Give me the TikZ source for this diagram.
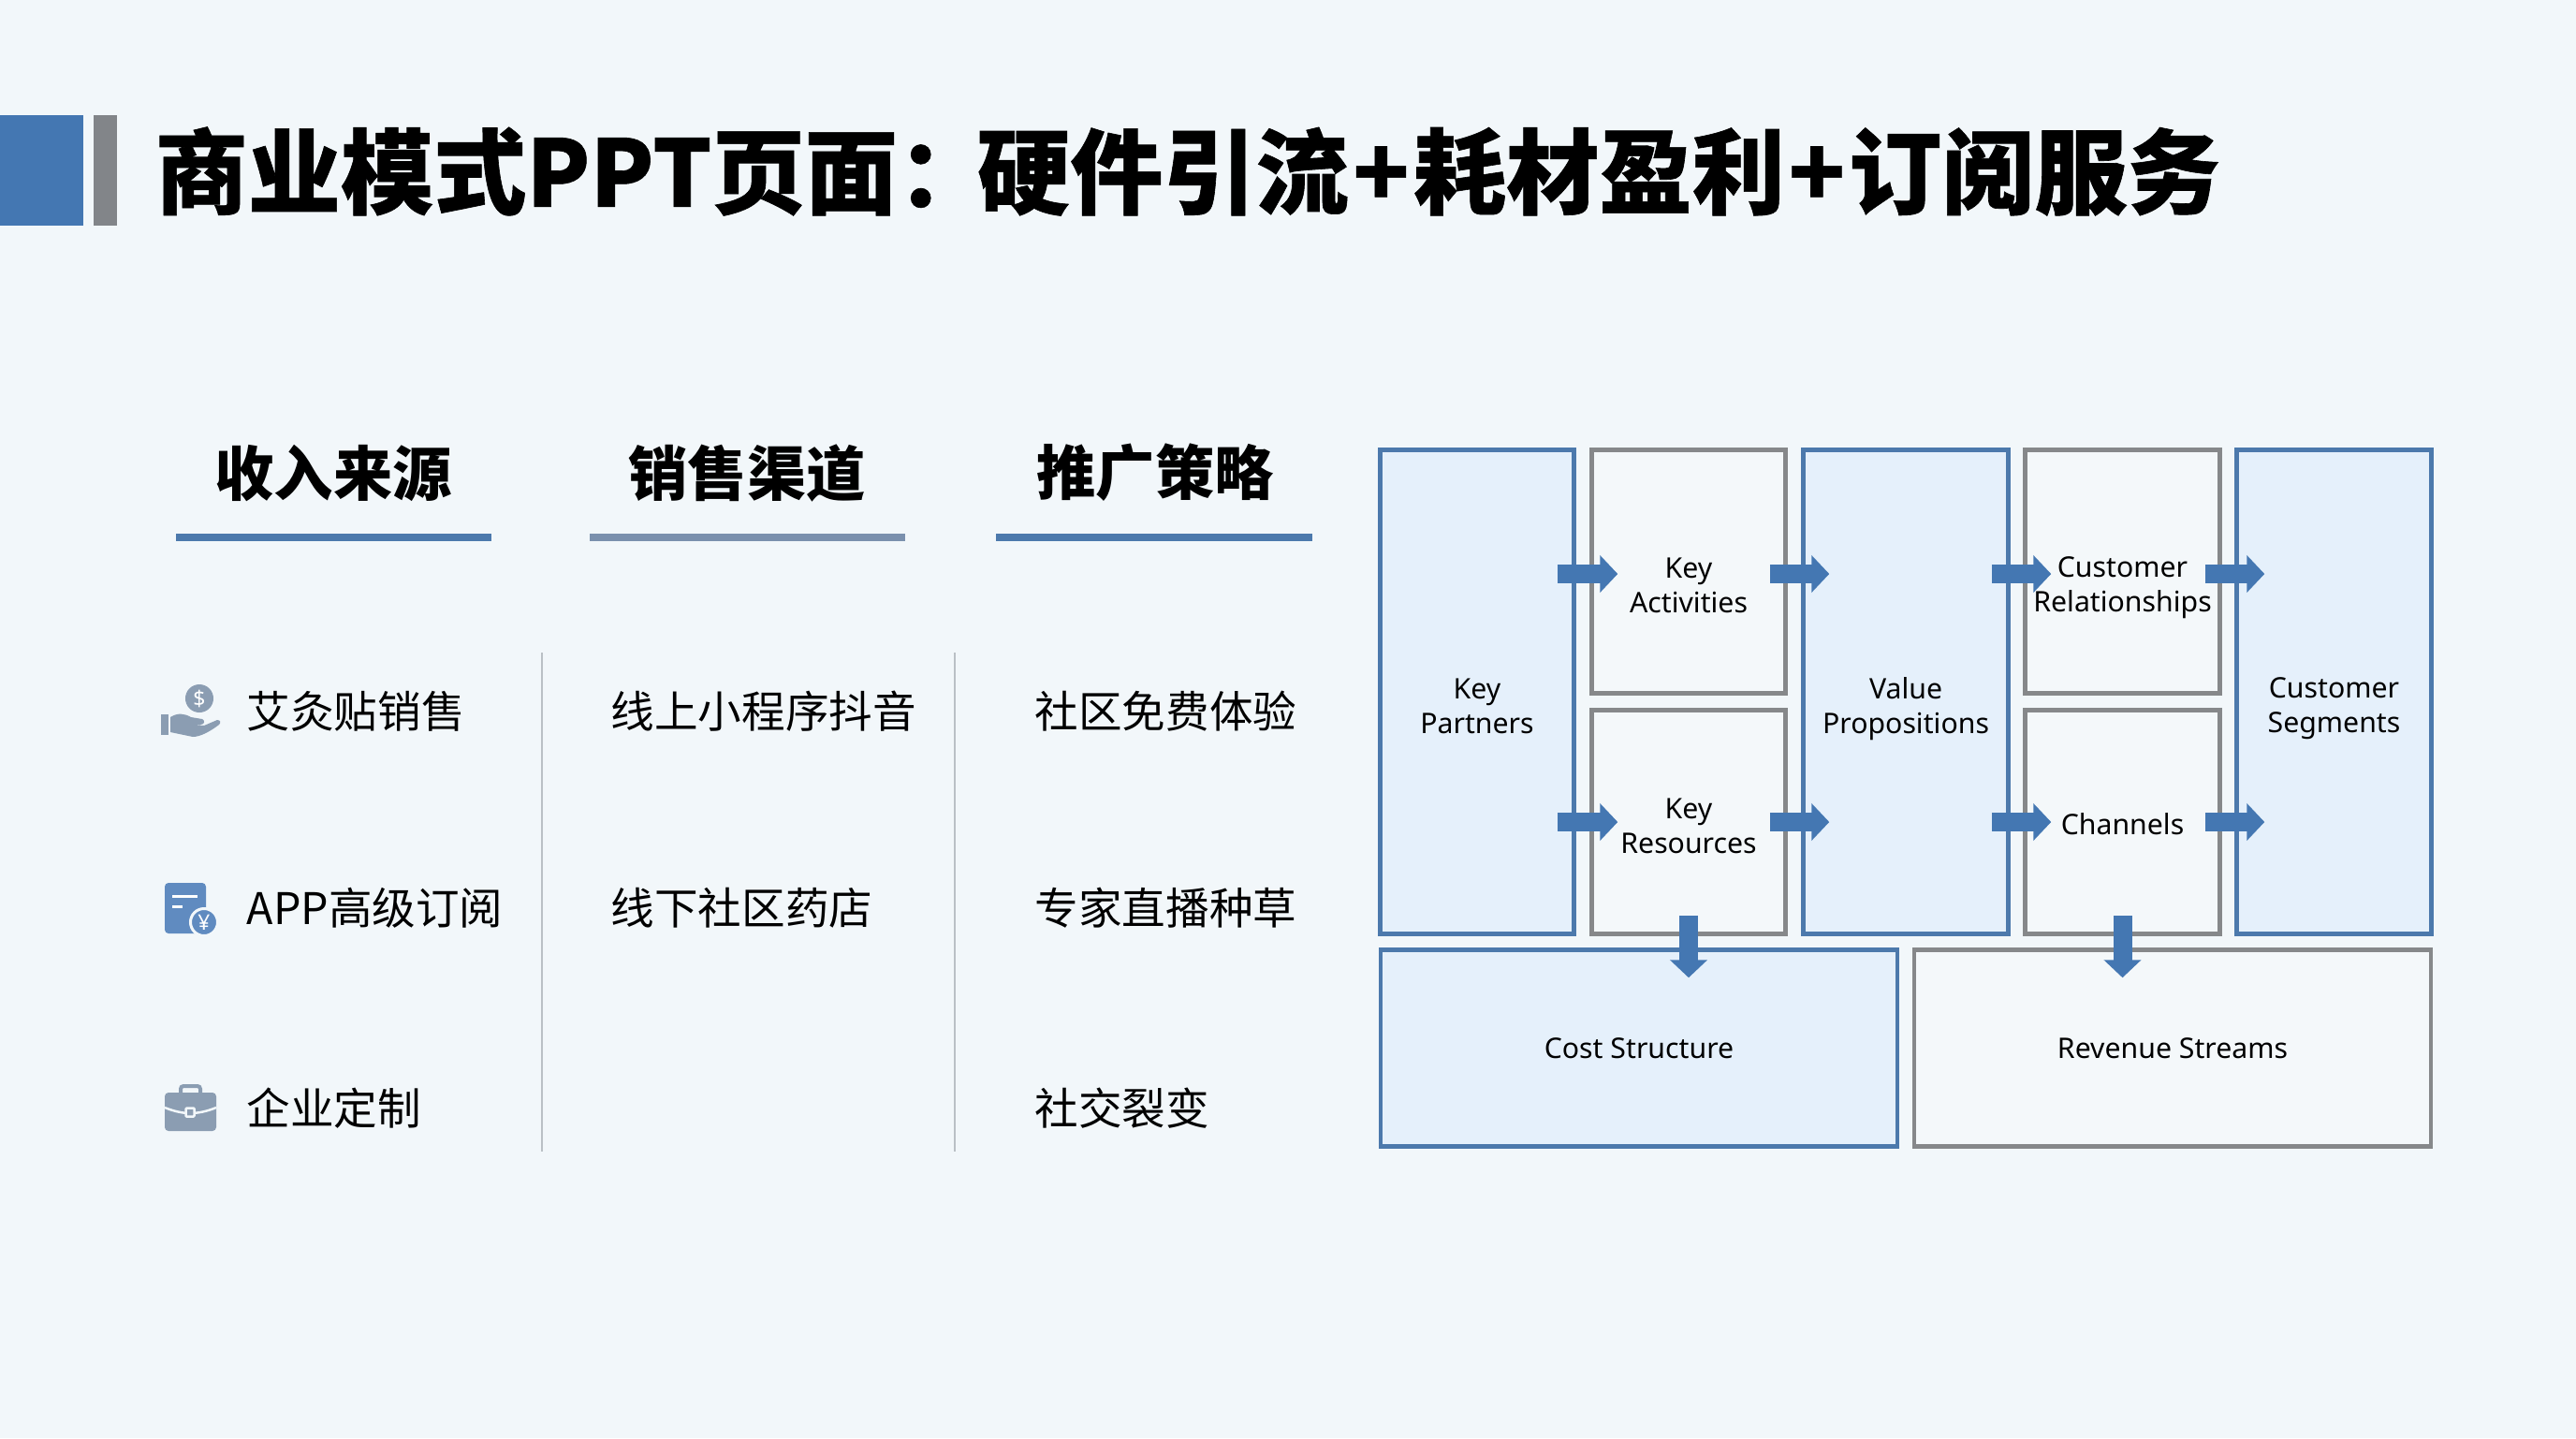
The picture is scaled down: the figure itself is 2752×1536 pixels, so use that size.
\documentclass[tikz,border=0pt]{standalone}
\usepackage{fontspec}
\setmainfont{Noto Sans}
\newfontfamily\cjkfont{Noto Sans CJK SC}
\newfontfamily\cjkheavy[BoldFeatures={FakeBold=0.6}]{Noto Sans CJK SC}
\usepackage{xcolor}
\usetikzlibrary{arrows.meta,positioning,calc}
\definecolor{pagebg}{RGB}{242, 247, 250}
\definecolor{primaryblue}{RGB}{68, 119, 178}
\definecolor{borderblue}{RGB}{76, 121, 172}
\definecolor{softblue}{RGB}{229, 240, 251}
\definecolor{bordergray}{RGB}{134, 136, 138}
\definecolor{softgray}{RGB}{244, 248, 250}
\definecolor{bargray}{RGB}{130, 133, 137}
\definecolor{mutedblue}{RGB}{122, 144, 173}
\definecolor{iconslate}{RGB}{139, 157, 178}
\definecolor{iconblue}{RGB}{96, 139, 192}
\definecolor{rulegray}{RGB}{186, 192, 197}

\begin{document}
\begin{tikzpicture}[
  x=0.01cm, y=-0.01cm,
  titletext/.style={anchor=west, inner sep=0pt, font=\cjkheavy\bfseries\fontsize{28.2}{30}\selectfont},
  headtext/.style={inner sep=0pt, font=\cjkfont\bfseries\fontsize{18}{20}\selectfont},
  itemtext/.style={anchor=west, inner sep=0pt, font=\cjkfont\fontsize{13.25}{15}\selectfont},
  bluebox/.style={rectangle, draw=borderblue, fill=softblue, line width=1.25pt},
  graybox/.style={rectangle, draw=bordergray, fill=softgray, line width=1.25pt},
  boxtext/.style={inner sep=0pt, align=center, font=\fontsize{8.6}{10.6}\selectfont},
  headrule/.style={line width=0.08cm},
  colrule/.style={draw=rulegray, line width=0.5pt},
  blockarrow/.style={-{Triangle[length=0.19cm,width=0.39cm]}, line width=0.2cm, color=primaryblue},
  icontext/.style={inner sep=0pt, text=white, font=\bfseries\fontsize{6.5}{7}\selectfont}
]

% Page background
\fill[pagebg] (0,0) rectangle (2752,1536);
\useasboundingbox (0,0) rectangle (2752,1536);

% Top: title banner
\fill[primaryblue] (0,123) rectangle (89,241);
\fill[bargray] (100,123) rectangle (124.5,241);
\node[titletext] (title) at (165,183) {商业模式PPT页面：\kern-0.14cm 硬件引流\kern0.045cm+\kern0.045cm 耗材盈利\kern0.04cm+\kern0.04cm 订阅服务};

% Left: column headers
\node[headtext] (income) at (356,505) {收入来源};
\node[headtext] (sales) at (798,505) {销售渠道};
\node[headtext] (promo) at (1234,505) {推广策略};
\draw[headrule, borderblue] (188,574) -- (525,574);
\draw[headrule, mutedblue] (630,574) -- (967,574);
\draw[headrule, borderblue] (1064,574) -- (1402,574);

% Left: column separators
\draw[colrule] (579,697) -- (579,1230);
\draw[colrule] (1020,697) -- (1020,1230);

% Left: list items
\node[itemtext] (moxa) at (263,760) {艾灸贴销售};
\node[itemtext] (app) at (263,970) {APP高级订阅};
\node[itemtext] (custom) at (263,1184) {企业定制};
\node[itemtext] (online) at (652,760) {线上小程序抖音};
\node[itemtext] (offline) at (652,970) {线下社区药店};
\node[itemtext] (trial) at (1105,760) {社区免费体验};
\node[itemtext] (expert) at (1105,970) {专家直播种草};
\node[itemtext] (social) at (1105,1184) {社交裂变};

% Left: icons
\node[circle, fill=iconslate, minimum size=0.3cm, icontext] (coin) at (213,746) {\$};
\fill[iconslate] (172,763) rectangle (180,785);
\fill[iconslate] (182,766) .. controls (190,761) and (197,762) .. (204,766) -- (216,768)
  .. controls (220,770) and (218,774) .. (214,774) -- (204,774) -- (218,775) -- (232,769)
  .. controls (236,769) and (236,772) .. (234,774) .. controls (225,781) and (214,787) .. (206,787)
  -- (182,782) -- cycle;
\fill[iconblue, rounded corners=0.04cm] (176,943) rectangle (220,997);
\draw[white, line width=0.03cm] (184,957) -- (211,957);
\draw[white, line width=0.03cm] (184,968) -- (195,968);
\node[circle, fill=iconblue, draw=pagebg, line width=0.03cm, minimum size=0.29cm, icontext] (yuan) at (218,985) {¥};
\fill[iconslate, rounded corners=0.04cm] (176,1167) rectangle (231,1208);
\draw[iconslate, line width=0.04cm, rounded corners=0.03cm] (193,1167) -- (193,1160) -- (214,1160) -- (214,1167);
\draw[pagebg, line width=0.025cm] (176,1183) .. controls (186,1187) and (195,1189) .. (203,1189) .. controls (212,1189) and (221,1187) .. (231,1183);
\node[rectangle, rounded corners=0.01cm, fill=iconslate, draw=pagebg, line width=0.025cm, minimum size=0.09cm, inner sep=0pt] (clasp) at (203,1188) {};

% Right: canvas blocks
\node[bluebox, minimum width=2.07cm, minimum height=5.17cm] (partners) at (1578,739) {};
\node[graybox, minimum width=2.07cm, minimum height=2.60cm] (activities) at (1804,610.5) {};
\node[graybox, minimum width=2.07cm, minimum height=2.39cm] (resources) at (1804,878) {};
\node[bluebox, minimum width=2.19cm, minimum height=5.17cm] (value) at (2036,739) {};
\node[graybox, minimum width=2.08cm, minimum height=2.60cm] (relations) at (2267.5,610.5) {};
\node[graybox, minimum width=2.08cm, minimum height=2.39cm] (channels) at (2267.5,878) {};
\node[bluebox, minimum width=2.08cm, minimum height=5.17cm] (segments) at (2493.5,739) {};
\node[bluebox, minimum width=5.52cm, minimum height=2.10cm] (cost) at (1751,1119.5) {};
\node[graybox, minimum width=5.52cm, minimum height=2.10cm] (revenue) at (2321,1119.5) {};

% Right: block captions
\node[boxtext] (partnerstext) at (1578,754) {Key\\Partners};
\node[boxtext] (activitiestext) at (1804,625) {Key\\Activities};
\node[boxtext] (resourcestext) at (1804,882) {Key\\Resources};
\node[boxtext] (valuetext) at (2036,757) {Value\\Propositions};
\node[boxtext] (relationstext) at (2267.5,628) {Customer\\Relationships};
\node[boxtext] (channelstext) at (2267.5,880) {Channels};
\node[boxtext] (segmentstext) at (2493.5,757) {Customer\\Segments};
\node[boxtext] (costtext) at (1751,1120) {Cost Structure};
\node[boxtext] (revenuetext) at (2321,1120) {Revenue Streams};

% Connectors
\coordinate (rowone) at (0,613);
\coordinate (rowtwo) at (0,878);
\draw[blockarrow] ($(partners.east |- rowone)+(-20,0)$) -- ($(activities.west |- rowone)+(30,0)$);
\draw[blockarrow] ($(activities.east |- rowone)+(-19,0)$) -- ($(value.west |- rowone)+(30,0)$);
\draw[blockarrow] ($(value.east |- rowone)+(-20,0)$) -- ($(relations.west |- rowone)+(30,0)$);
\draw[blockarrow] ($(relations.east |- rowone)+(-18,0)$) -- ($(segments.west |- rowone)+(32,0)$);
\draw[blockarrow] ($(partners.east |- rowtwo)+(-20,0)$) -- ($(resources.west |- rowtwo)+(30,0)$);
\draw[blockarrow] ($(resources.east |- rowtwo)+(-19,0)$) -- ($(value.west |- rowtwo)+(30,0)$);
\draw[blockarrow] ($(value.east |- rowtwo)+(-20,0)$) -- ($(channels.west |- rowtwo)+(30,0)$);
\draw[blockarrow] ($(channels.east |- rowtwo)+(-18,0)$) -- ($(segments.west |- rowtwo)+(32,0)$);
\draw[blockarrow] ($(resources.south)+(0,-22)$) -- ($(resources.south |- cost.north)+(0,32)$);
\draw[blockarrow] ($(channels.south)+(0,-22)$) -- ($(channels.south |- revenue.north)+(0,32)$);

\end{tikzpicture}
\end{document}
